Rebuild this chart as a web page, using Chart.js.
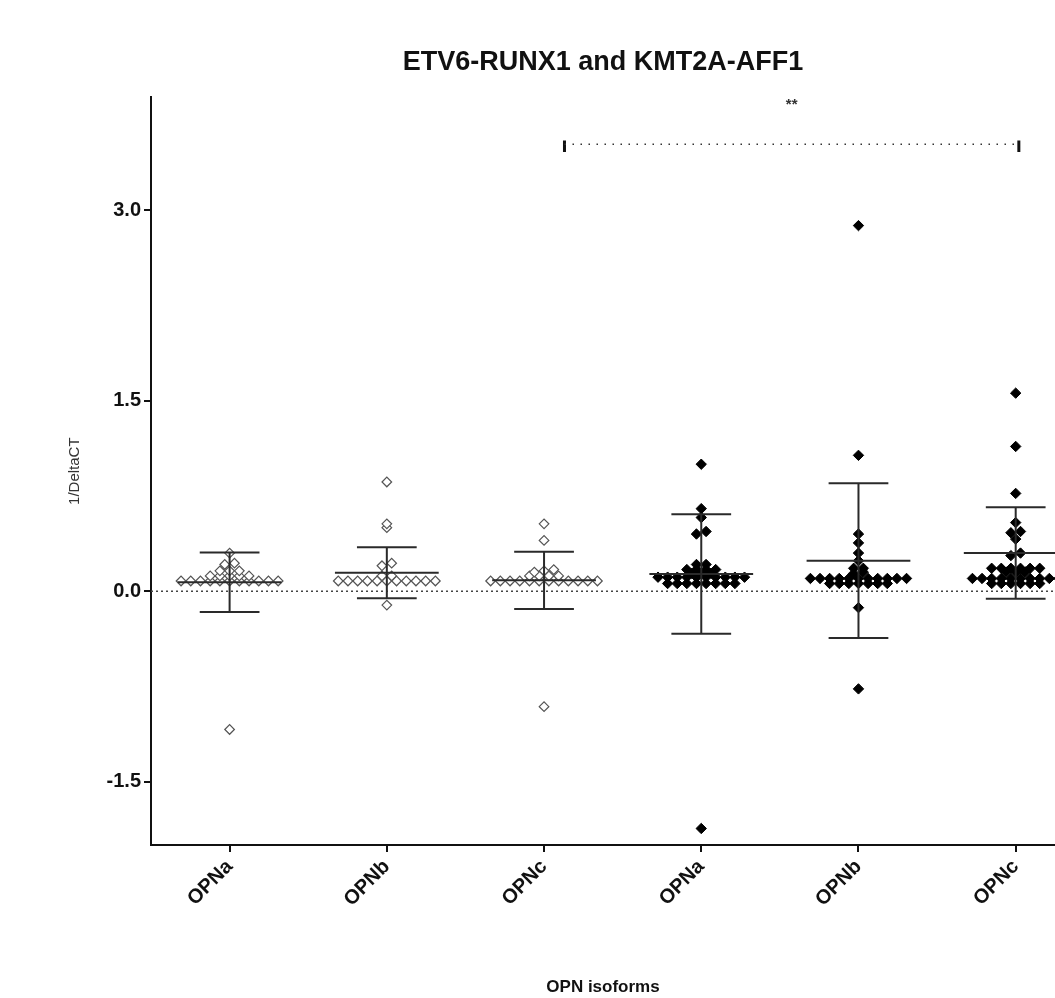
<!DOCTYPE html>
<html>
<head>
<meta charset="utf-8">
<script src="https://cdn.jsdelivr.net/npm/chart.js@4"></script>
<style>
  html, body { margin: 0; padding: 0; background: #fff; overflow: hidden; }
  #wrap { width: 1055px; height: 998px; }
</style>
</head>
<body>
<div id="wrap"><canvas id="chart"></canvas></div>
<script>
// Groups along the x axis (first three ETV6-RUNX1, last three KMT2A-AFF1)
const categories = ['OPNa', 'OPNb', 'OPNc', 'OPNa', 'OPNb', 'OPNc'];
const filledGroups = [false, false, false, true, true, true];

// 1/DeltaCT values (repeats = dots drawn side by side)
const etvOpna = [0.30, 0.22, 0.21, 0.16, 0.16, 0.16, 0.12, 0.12, 0.12, 0.12, 0.12,
  0.08, 0.08, 0.08, 0.08, 0.08, 0.08, 0.08, 0.08, 0.08, 0.08, 0.08, -1.09];
const etvOpnb = [0.86, 0.53, 0.50, 0.22, 0.20, 0.12, 0.12,
  0.08, 0.08, 0.08, 0.08, 0.08, 0.08, 0.08, 0.08, 0.08, 0.08, 0.08, -0.11];
const etvOpnc = [0.53, 0.40, 0.17, 0.16, 0.15, 0.12, 0.12, 0.12, 0.12,
  0.08, 0.08, 0.08, 0.08, 0.08, 0.08, 0.08, 0.08, 0.08, 0.08, 0.08, 0.08, -0.91];
const kmtOpna = [1.00, 0.65, 0.58, 0.47, 0.45, 0.21, 0.21, 0.17, 0.17, 0.17, 0.17, 0.14, 0.14, 0.14,
  0.11, 0.11, 0.11, 0.11, 0.11, 0.11, 0.11, 0.11, 0.11, 0.11,
  0.06, 0.06, 0.06, 0.06, 0.06, 0.06, 0.06, 0.06, -1.87];
const kmtOpnb = [2.88, 1.07, 0.45, 0.38, 0.30, 0.24, 0.18, 0.18, 0.15, 0.14,
  0.10, 0.10, 0.10, 0.10, 0.10, 0.10, 0.10, 0.10, 0.10, 0.10, 0.10,
  0.06, 0.06, 0.06, 0.06, 0.06, 0.06, 0.06, -0.13, -0.77];
const kmtOpnc = [1.56, 1.14, 0.77, 0.54, 0.47, 0.46, 0.41, 0.30, 0.28,
  0.18, 0.18, 0.18, 0.18, 0.18, 0.18, 0.15, 0.15, 0.15,
  0.10, 0.10, 0.10, 0.10, 0.10, 0.10, 0.10, 0.10, 0.10, 0.10,
  0.06, 0.06, 0.06, 0.06, 0.06, 0.06];
const groupValues = [etvOpna, etvOpnb, etvOpnc, kmtOpna, kmtOpnb, kmtOpnc];

// mean and SD bars as drawn
const groupMeans = [0.07, 0.145, 0.085, 0.135, 0.24, 0.30];
const groupSDs = [0.235, 0.2, 0.225, 0.47, 0.61, 0.36];

// axes
const yTicks = [-1.5, 0, 1.5, 3.0];
const yMin = -2.0, yMax = 3.89;
const xMin = -0.5, xMax = 5.25;

// significance bracket between groups
const sigX = [2.13, 5.02];
const sigY = 3.52;
const sigLabel = '**';
const sigLabelY = 3.83;

// rough pixel scale and row tolerance (hundredths), only used to lay out the dot rows
const PX_PER_X = 157, ROW_TOL = 3;

// Prism-like scatter: values that are close form one row, centred on the group
function swarm(values, center, gap) {
  const rows = [];
  [...values].sort((a, b) => a - b).forEach(v => {
    const row = rows[rows.length - 1];
    if (row && Math.round((v - row[0]) * 100) < ROW_TOL) row.push(v);
    else rows.push([v]);
  });
  return rows.flatMap(row => row.map((v, j) => ({
    x: center + (j - (row.length - 1) / 2) * gap / PX_PER_X,
    y: v
  })));
}

function lineSet(points, opts = {}) {
  return Object.assign({
    data: points,
    showLine: true,
    pointRadius: 0,
    borderColor: '#2a2a2a',
    borderWidth: 2,
    fill: false
  }, opts);
}

const datasets = [];

// mean + SD bars on top of points
groupMeans.forEach((m, i) => {
  const sd = groupSDs[i];
  datasets.push(lineSet([{ x: i, y: m - sd }, { x: i, y: m + sd }]));
  datasets.push(lineSet([{ x: i - 0.19, y: m + sd }, { x: i + 0.19, y: m + sd }]));
  datasets.push(lineSet([{ x: i - 0.19, y: m - sd }, { x: i + 0.19, y: m - sd }]));
  datasets.push(lineSet([{ x: i - 0.33, y: m }, { x: i + 0.33, y: m }]));
});

// points
groupValues.forEach((vals, i) => {
  const filled = filledGroups[i];
  datasets.push({
    data: swarm(vals, i, filled ? 9.6 : 9.7),
    pointStyle: 'rectRot',
    pointRadius: filled ? 5.2 : 4.8,
    pointBorderWidth: filled ? 1 : 1.2,
    pointBorderColor: filled ? '#000' : '#555',
    pointBackgroundColor: filled ? '#000' : '#fff',
    showLine: false
  });
});

// dotted zero line
datasets.push(lineSet([{ x: xMin, y: 0 }, { x: xMax, y: 0 }], {
  borderWidth: 1.5, borderDash: [2, 3], borderColor: '#444'
}));

// bracket
datasets.push(lineSet([{ x: sigX[0], y: sigY }, { x: sigX[1], y: sigY }], {
  borderWidth: 1.5, borderDash: [1.5, 6.5], borderColor: '#333'
}));
sigX.forEach(x => {
  datasets.push(lineSet([{ x, y: sigY - 0.06 }, { x, y: sigY + 0.03 }], { borderWidth: 3, borderColor: '#111' }));
});

const starPlugin = {
  id: 'stars',
  afterDatasetsDraw(chart) {
    const { ctx, scales } = chart;
    ctx.save();
    ctx.font = 'bold 15px "Liberation Sans", Arial, sans-serif';
    ctx.fillStyle = '#333';
    ctx.textAlign = 'center';
    ctx.textBaseline = 'middle';
    ctx.fillText(sigLabel, scales.x.getPixelForValue((sigX[0] + sigX[1]) / 2), scales.y.getPixelForValue(sigLabelY));
    ctx.restore();
  }
};

const FONT = '"Liberation Sans", Arial, sans-serif';

new Chart(document.getElementById('chart'), {
  type: 'scatter',
  data: { datasets },
  plugins: [starPlugin],
  options: {
    responsive: true,
    maintainAspectRatio: false,
    animation: false,
    layout: { autoPadding: false, padding: { top: 40, left: 0, right: 0, bottom: 0 } },
    plugins: {
      legend: { display: false },
      tooltip: { enabled: false },
      title: {
        display: true,
        text: 'ETV6-RUNX1 and KMT2A-AFF1',
        fullSize: false,
        color: '#111',
        font: { family: FONT, size: 27, weight: 'bold' },
        padding: { top: 6, bottom: 19 }
      }
    },
    scales: {
      x: {
        type: 'linear',
        min: xMin,
        max: xMax,
        afterBuildTicks: s => { s.ticks = categories.map((_, i) => ({ value: i })); },
        afterFit: s => { s.height = 153; s.paddingLeft = 0; s.paddingRight = 0; },
        ticks: {
          callback: (v, i) => categories[i],
          minRotation: 45,
          maxRotation: 45,
          padding: 3,
          color: '#111',
          font: { family: FONT, size: 20, weight: 'bold' }
        },
        grid: { drawOnChartArea: false, drawTicks: true, tickLength: 7, color: '#111', lineWidth: 2 },
        border: { display: true, color: '#111', width: 2 },
        title: {
          display: true,
          text: 'OPN isoforms',
          color: '#111',
          font: { family: FONT, size: 17, weight: 'bold' },
          padding: { top: 0, bottom: 0 }
        }
      },
      y: {
        min: yMin,
        max: yMax,
        afterBuildTicks: s => { s.ticks = yTicks.map(v => ({ value: v })); },
        afterFit: s => { s.width = 151; s.paddingTop = 0; s.paddingBottom = 0; },
        ticks: {
          callback: v => v.toFixed(1),
          padding: 3,
          color: '#111',
          font: { family: FONT, size: 20, weight: 'bold' }
        },
        grid: { drawOnChartArea: false, drawTicks: true, tickLength: 7, color: '#111', lineWidth: 2 },
        border: { display: true, color: '#111', width: 2 },
        title: {
          display: true,
          text: '1/DeltaCT',
          color: '#333',
          font: { family: FONT, size: 15 },
          padding: { top: 66, bottom: 0 }
        }
      }
    }
  }
});
</script>
</body>
</html>
